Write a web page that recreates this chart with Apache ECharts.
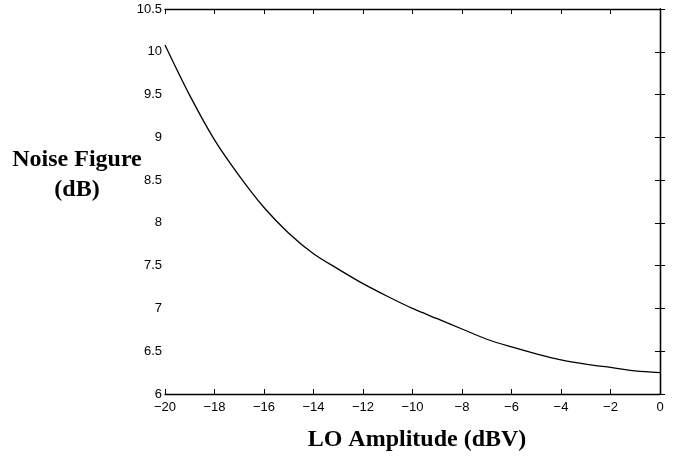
<!DOCTYPE html>
<html>
<head>
<meta charset="utf-8">
<script src="https://cdn.jsdelivr.net/npm/echarts@6/dist/echarts.min.js"></script>
<style>
html,body{margin:0;padding:0;background:#fff;}
#chart{width:678px;height:458px;}
</style>
</head>
<body>
<div id="chart"></div>
<script>
// LO amplitude (dBV)
var loAmplitude = [-20,-19,-18,-17,-16,-15,-14,-13,-12,-11,-10,-9,-8,-7,-6,-5,-4,-3,-2,-1,0];
// Noise figure (dB)
var noiseFigure = [10.08,9.49,8.97,8.55,8.18,7.88,7.64,7.46,7.29,7.14,7.00,6.88,6.76,6.64,6.55,6.47,6.40,6.35,6.31,6.27,6.25];
var xTicks = [-20,-18,-16,-14,-12,-10,-8,-6,-4,-2,0];
var yTicks = [6,6.5,7,7.5,8,8.5,9,9.5,10,10.5];
var yTitle = ['Noise Figure','(dB)'];
var xTitle = 'LO Amplitude (dBV)';

var points = loAmplitude.map(function(x,i){return [x, noiseFigure[i]];});
var tickFont = {fontFamily:'Liberation Sans, Arial, sans-serif', fontSize:13, color:'#000'};
var axisLine = {show:true, lineStyle:{color:'#000', width:1.3}};
var axisTick = {show:true, inside:true, length:5, lineStyle:{color:'#000', width:1}};

var chart = echarts.init(document.getElementById('chart'), null, {renderer:'canvas'});
chart.setOption({
  animation:false,
  backgroundColor:'#fff',
  grid:{left:165, right:18, top:9, bottom:64, containLabel:false},
  xAxis:[{
    type:'value', min:xTicks[0], max:xTicks[xTicks.length-1], interval:2,
    axisLine:axisLine, axisTick:axisTick, splitLine:{show:false},
    axisLabel:Object.assign({margin:7, formatter:function(v){return String(v).replace('-','\u2212');}}, tickFont)
  },{
    type:'value', position:'top', min:xTicks[0], max:xTicks[xTicks.length-1], interval:2,
    axisLine:axisLine, axisTick:axisTick, splitLine:{show:false}, axisLabel:{show:false}
  }],
  yAxis:[{
    type:'value', min:yTicks[0], max:yTicks[yTicks.length-1], interval:0.5,
    axisLine:axisLine, axisTick:axisTick, splitLine:{show:false},
    axisLabel:Object.assign({margin:3}, tickFont)
  },{
    type:'value', position:'right', min:yTicks[0], max:yTicks[yTicks.length-1], interval:0.5,
    axisLine:axisLine, axisTick:axisTick, splitLine:{show:false}, axisLabel:{show:false}
  }],
  series:[{
    type:'line', data:points, showSymbol:false, smooth:0.3,
    lineStyle:{color:'#000', width:1.3}, clip:false
  }],
  graphic:[
    {type:'text', style:{x:77, y:160, text:yTitle[0], textAlign:'center', textVerticalAlign:'middle',
      font:'bold 24px "Liberation Serif", "Times New Roman", serif', fill:'#000'}},
    {type:'text', style:{x:77, y:190, text:yTitle[1], textAlign:'center', textVerticalAlign:'middle',
      font:'bold 24px "Liberation Serif", "Times New Roman", serif', fill:'#000'}},
    {type:'text', style:{x:417, y:440, text:xTitle, textAlign:'center', textVerticalAlign:'middle',
      font:'bold 24px "Liberation Serif", "Times New Roman", serif', fill:'#000'}}
  ]
});
</script>
</body>
</html>
